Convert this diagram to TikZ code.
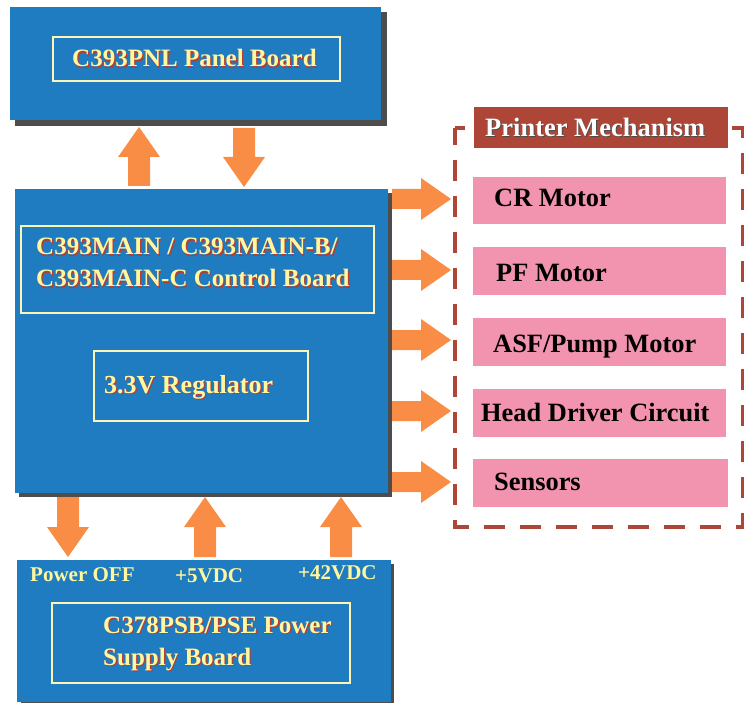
\documentclass[tikz,border=0pt]{standalone}
\usepackage{fontspec}
\setmainfont{Liberation Serif}
\definecolor{boardblue}{RGB}{31,124,192}
\definecolor{shgray}{RGB}{77,77,77}
\definecolor{arrowc}{RGB}{249,141,69}
\definecolor{pinkbox}{RGB}{242,147,176}
\definecolor{brick}{RGB}{174,70,55}
\definecolor{tyel}{RGB}{255,247,160}
\definecolor{innery}{RGB}{253,245,180}
\definecolor{tshadow}{RGB}{181,60,50}
\newcommand\shy[1]{\leavevmode\rlap{\kern1.2pt\raisebox{-1.2pt}{\color{tshadow}#1}}{\color{tyel}#1}}
\newcommand\shw[1]{\leavevmode\rlap{\kern1pt\raisebox{-1pt}{\color{black!70}#1}}{\color{white}#1}}
% up block arrow: centre x, tip y, bottom y
\newcommand\upblk[3]{\fill[arrowc] (#1-11,#3) -- (#1-11,#2+30) -- (#1-21,#2+30) -- (#1,#2) -- (#1+21,#2+30) -- (#1+11,#2+30) -- (#1+11,#3) -- cycle;}
% down block arrow: centre x, top y, tip y
\newcommand\dnblk[3]{\fill[arrowc] (#1-11,#2) -- (#1-11,#3-30) -- (#1-21,#3-30) -- (#1,#3) -- (#1+21,#3-30) -- (#1+11,#3-30) -- (#1+11,#2) -- cycle;}
% right block arrow: centre y
\newcommand\rtblk[1]{\fill[arrowc] (392,#1-10) -- (421,#1-10) -- (421,#1-21) -- (451,#1) -- (421,#1+21) -- (421,#1+10) -- (392,#1+10) -- cycle;}
\begin{document}
\begin{tikzpicture}[x=1pt,y=-1pt,
  boxnw/.style={anchor=north west, inner sep=0pt, outer sep=0pt},
  board/.style={boxnw, fill=boardblue},
  shbox/.style={boxnw, fill=shgray},
  innerbox/.style={boxnw, draw=innery, line width=1.5pt},
  pinkb/.style={boxnw, fill=pinkbox},
  btxt/.style={anchor=base west, inner sep=0pt, font=\bfseries\fontsize{25}{30}\selectfont},
  ltxt/.style={anchor=base west, inner sep=0pt, font=\bfseries\fontsize{21}{24}\selectfont, text=tyel},
  ptxt/.style={anchor=base west, inner sep=0pt, font=\bfseries\fontsize{26.4}{30}\selectfont, text=black}]
\useasboundingbox (0,0) rectangle (744,703);

% Panel board
\node[shbox, minimum width=372pt, minimum height=114pt] (pnlsh) at (15,12) {};
\node[board, minimum width=371pt, minimum height=113pt] (pnl) at (10,7) {};
\node[innerbox, minimum width=287pt, minimum height=44pt] (pnlin) at (53,37) {};
\node[btxt] (pnlt) at (72,67) {\shy{C393PNL Panel Board}};

% Main board
\node[shbox, minimum width=373pt, minimum height=304pt] (mainsh) at (19,193) {};
\node[board, minimum width=373pt, minimum height=304pt] (main) at (15,189) {};
\node[innerbox, minimum width=353pt, minimum height=87pt] (mainin) at (21,226) {};
\node[btxt] (maint1) at (36,255) {\shy{C393MAIN / C393MAIN-B/}};
\node[btxt] (maint2) at (36,287) {\shy{C393MAIN-C Control Board}};
\node[innerbox, minimum width=214pt, minimum height=70pt] (reg) at (94,351) {};
\node[btxt,font=\bfseries\fontsize{26}{30}\selectfont] (regt) at (104,393) {\shy{3.3V Regulator}};

% Power supply board
\node[shbox, minimum width=373pt, minimum height=142pt] (psbsh) at (21,564) {};
\node[board, minimum width=374pt, minimum height=142pt] (psb) at (17,560) {};
\node[innerbox, minimum width=298pt, minimum height=80pt] (psbin) at (52,603) {};
\node[btxt] (psbt1) at (103,633) {\shy{C378PSB/PSE Power}};
\node[btxt] (psbt2) at (103,665) {\shy{Supply Board}};
\node[ltxt] (poff) at (30,581) {Power OFF};
\node[ltxt] (v5) at (175,582) {+5VDC};
\node[ltxt] (v42) at (298,579) {+42VDC};

% Printer mechanism
\draw[brick, line width=4.2pt, dash pattern=on 21pt off 15pt, dash phase=4pt] (455,128) rectangle (743,527);
\node[boxnw, fill=brick, minimum width=254pt, minimum height=41pt] (pm) at (474,107) {};
\node[anchor=base west, inner sep=0pt, font=\bfseries\fontsize{26.5}{30}\selectfont] (pmt) at (485,137) {\shw{Printer Mechanism}};
\node[pinkb, minimum width=253pt, minimum height=47pt] (cr) at (473,177) {};
\node[pinkb, minimum width=253pt, minimum height=48pt] (pf) at (473,247) {};
\node[pinkb, minimum width=253pt, minimum height=48pt] (asf) at (473,318) {};
\node[pinkb, minimum width=253pt, minimum height=48pt] (head) at (473,389) {};
\node[pinkb, minimum width=255pt, minimum height=48pt] (sens) at (473,459) {};
\node[ptxt] (crt) at (494,207) {CR Motor};
\node[ptxt] (pft) at (496,282) {PF Motor};
\node[ptxt] (asft) at (493,352) {ASF/Pump Motor};
\node[ptxt] (headt) at (481,421) {Head Driver Circuit};
\node[ptxt] (senst) at (494,490) {Sensors};

% Block arrows
\upblk{139}{127}{186}
\dnblk{244}{128}{187}
\dnblk{68}{497}{557}
\upblk{205}{497}{557}
\upblk{341}{497}{557}
\rtblk{199}
\rtblk{270}
\rtblk{340}
\rtblk{411}
\rtblk{482}
\end{tikzpicture}
\end{document}
